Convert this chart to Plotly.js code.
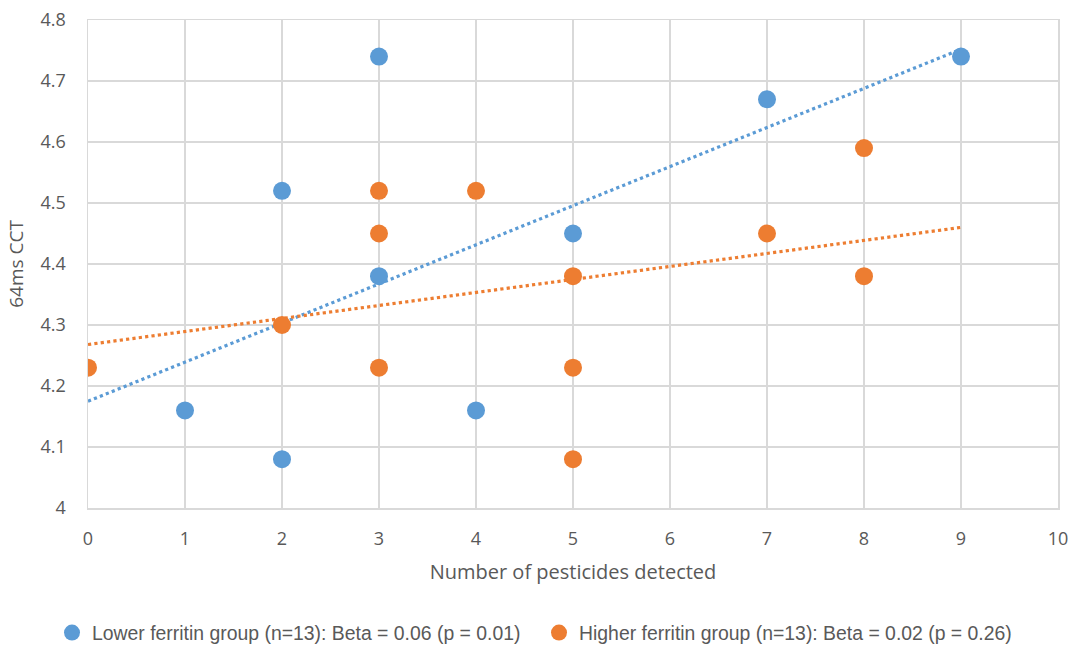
<!DOCTYPE html>
<html><head><meta charset="utf-8">
<script src="https://cdn.plot.ly/plotly-3.0.1.min.js"></script>
<style>body{margin:0;background:#fff}#c{width:1073px;height:646px}</style>
</head><body><div id="c"></div>
<script>
const lowerX = [1, 2, 2, 3, 3, 4, 5, 7, 9];
const lowerY = [4.16, 4.52, 4.08, 4.74, 4.38, 4.16, 4.45, 4.67, 4.74];
const higherX = [0, 2, 3, 3, 3, 4, 5, 5, 5, 7, 8, 8];
const higherY = [4.23, 4.30, 4.52, 4.45, 4.23, 4.52, 4.38, 4.23, 4.08, 4.45, 4.59, 4.38];
const trendX = [0, 9];
const lowerTrendY = [4.175, 4.752];
const higherTrendY = [4.268, 4.46];
const lowerName = "Lower ferritin group (n=13): Beta = 0.06 (p = 0.01)";
const higherName = "Higher ferritin group (n=13): Beta = 0.02 (p = 0.26)";
const blue = "#5B9BD5", orange = "#ED7D31";
const legendFont = "'Liberation Sans Narrow', 'Liberation Sans', sans-serif";
const tickFont = "'Open Sans', sans-serif";

const data = [
  {x: trendX, y: lowerTrendY, mode: "lines", line: {color: blue, width: 3.2, dash: "dot"}, showlegend: false, hoverinfo: "skip"},
  {x: trendX, y: higherTrendY, mode: "lines", line: {color: orange, width: 3.2, dash: "dot"}, showlegend: false, hoverinfo: "skip"},
  {x: lowerX, y: lowerY, mode: "markers", name: lowerName, marker: {color: blue, size: 18}},
  {x: higherX, y: higherY, mode: "markers", name: higherName, marker: {color: orange, size: 18}}
];
const layout = {
  width: 1073, height: 646,
  margin: {l: 88, r: 15, t: 20, b: 138},
  paper_bgcolor: "#fff", plot_bgcolor: "#fff",
  font: {family: tickFont, size: 18, color: "#595959"},
  xaxis: {range: [0, 10], dtick: 1, tick0: 0, showgrid: true, gridcolor: "#D9D9D9", gridwidth: 1.5,
    zeroline: false, showline: true, linecolor: "#D9D9D9", linewidth: 1.5, mirror: true, ticks: "",
    automargin: false, tickfont: {size: 18, family: tickFont}, ticklabelstandoff: 14,
    title: {text: "Number of pesticides detected", font: {size: 20, family: tickFont}, standoff: 16}},
  yaxis: {range: [4, 4.8], dtick: 0.1, tick0: 4, showgrid: true, gridcolor: "#D9D9D9", gridwidth: 1.5,
    zeroline: false, showline: true, linecolor: "#D9D9D9", linewidth: 1.5, mirror: true, ticks: "",
    automargin: false, tickfont: {size: 18, family: tickFont}, ticklabelstandoff: 17,
    title: {text: "64ms CCT", font: {size: 19, family: tickFont}, standoff: 12}},
  legend: {orientation: "h", xref: "container", x: 52 / 1073, xanchor: "left",
    yref: "container", y: 13 / 646, yanchor: "middle",
    font: {size: 19.4, family: legendFont, color: "#595959"}, itemwidth: 30, entrywidth: 442,
    traceorder: "normal"},
  showlegend: true
};
Plotly.newPlot("c", data, layout, {displayModeBar: false, staticPlot: true});
</script></body></html>
